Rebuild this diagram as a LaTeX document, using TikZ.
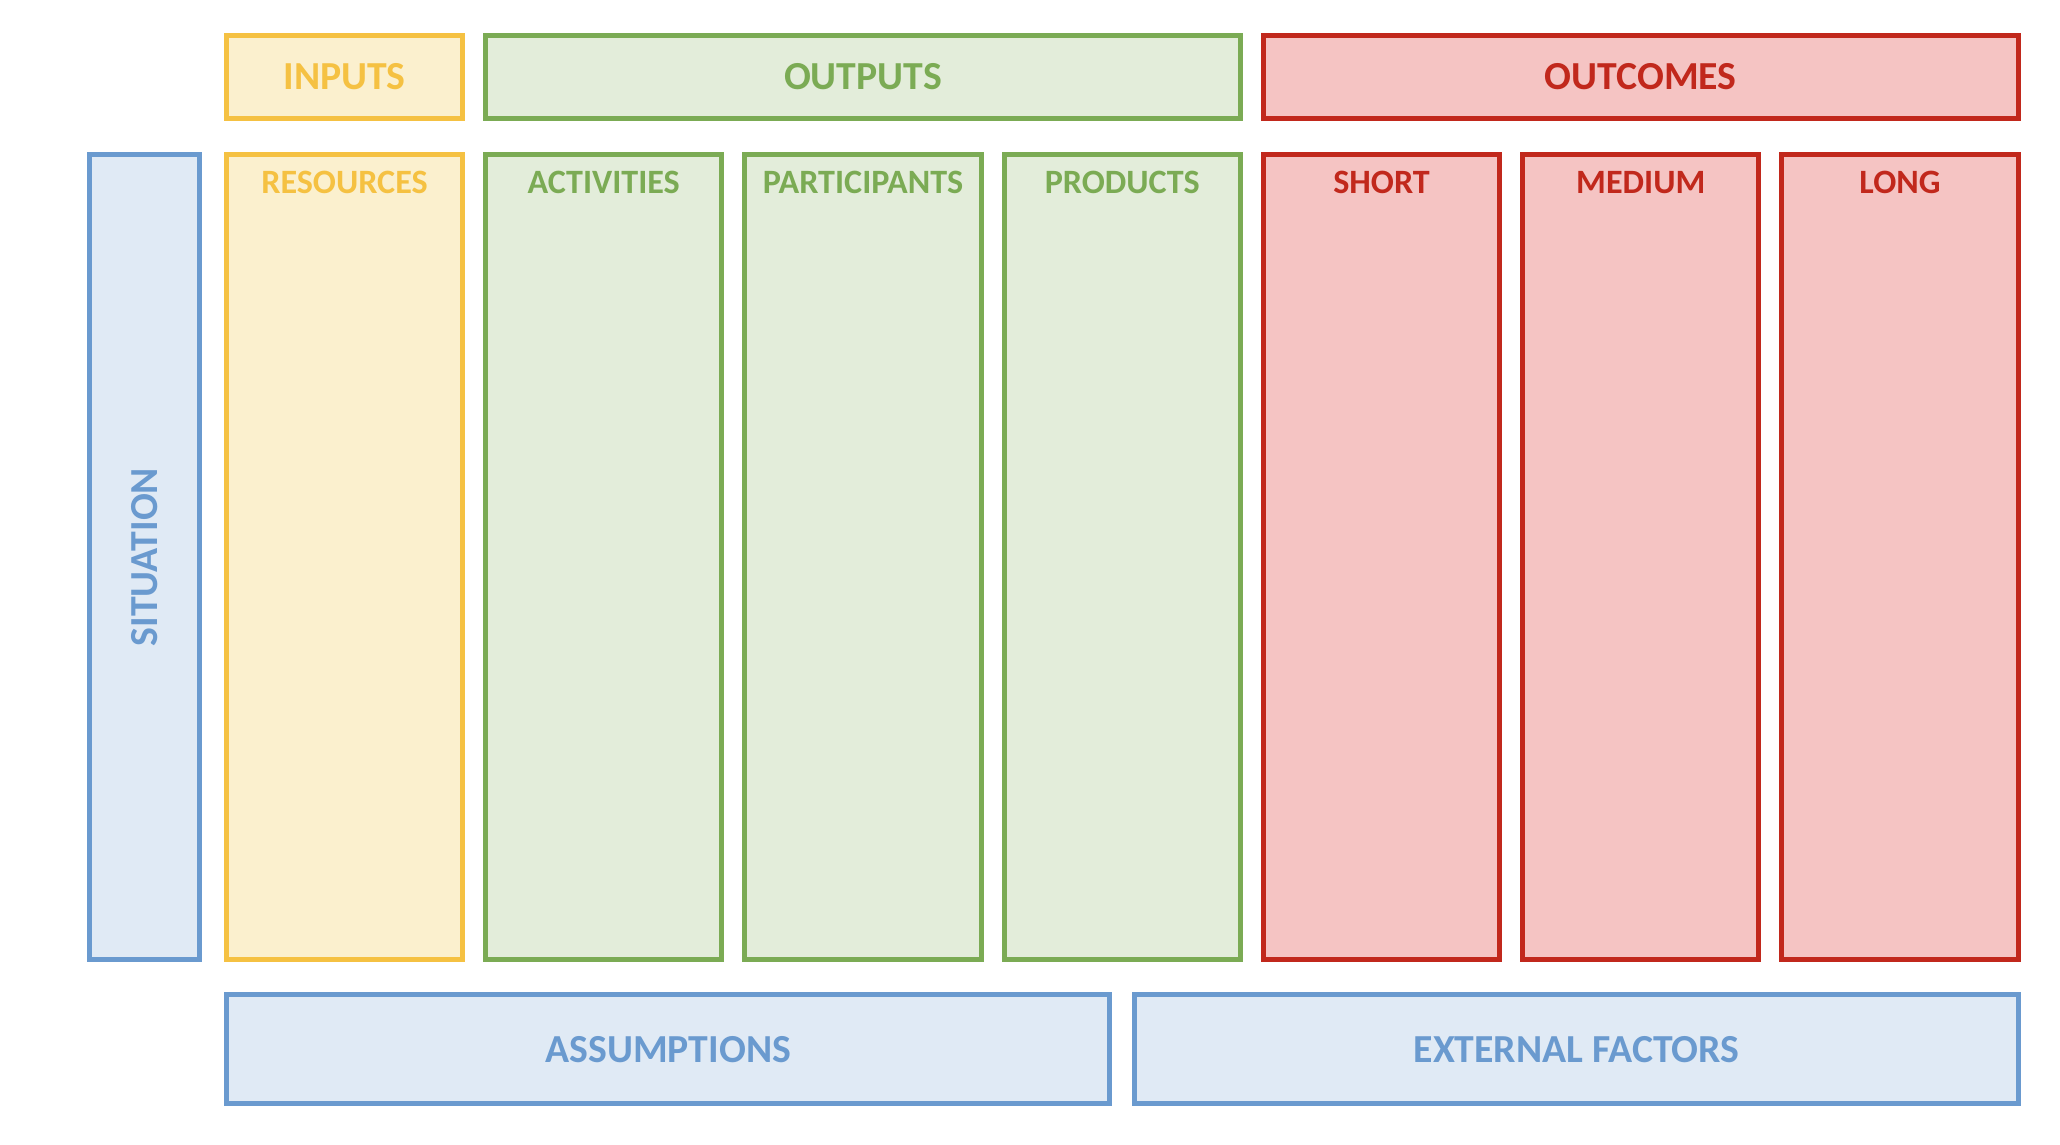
\documentclass[tikz,border=0pt]{standalone}
\usepackage{fontspec}
\setmainfont{Carlito}
\usetikzlibrary{positioning}

\definecolor{yelline}{HTML}{F5C142}
\definecolor{yelfill}{HTML}{FBF0CE}
\definecolor{grnline}{HTML}{7BAB54}
\definecolor{grnfill}{HTML}{E3EDDA}
\definecolor{redline}{HTML}{C1281C}
\definecolor{redfill}{HTML}{F5C4C3}
\definecolor{bluline}{HTML}{6A9ACF}
\definecolor{blufill}{HTML}{E0EAF5}

\begin{document}
\begin{tikzpicture}[
          x=0.01cm, y=-0.01cm,
          node distance=0.181cm,
          box/.style={draw, line width=0.05cm, inner sep=0pt,
            font=\fontsize{11.3}{13}\selectfont\bfseries},
          col/.style={box, minimum width=2.36cm, minimum height=8.05cm},
          head/.style={box, minimum height=0.83cm},
          foot/.style={box, minimum height=1.09cm},
          colname/.style={anchor=center, yshift=-0.306cm,
            font=\fontsize{9.7}{11}\selectfont\bfseries},
          yel/.style={draw=yelline, fill=yelfill, text=yelline},
          grn/.style={draw=grnline, fill=grnfill, text=grnline},
          red/.style={draw=redline, fill=redfill, text=redline},
          blu/.style={draw=bluline, fill=blufill, text=bluline}
        ]
          \useasboundingbox (0,0) rectangle (2060,1144);

          % columns
          \node[col, yel, label={[colname, yelline]north:RESOURCES}] (res) at (344.5,557) {};
          \node[col, grn, label={[colname, grnline]north:ACTIVITIES}, right=of res] (act) {};
          \node[col, grn, label={[colname, grnline]north:PARTICIPANTS}, right=of act] (part) {};
          \node[col, grn, label={[colname, grnline]north:PRODUCTS}, right=of part] (prod) {};
          \node[col, red, label={[colname, redline]north:SHORT}, right=of prod] (short) {};
          \node[col, red, label={[colname, redline]north:MEDIUM}, right=of short] (med) {};
          \node[col, red, label={[colname, redline]north:LONG}, right=of med] (long) {};

          \node[box, blu, minimum width=1.10cm, minimum height=8.05cm,
            left=0.215cm of res] (sit) {\rotatebox{90}{SITUATION}};

          % headers
          \node[head, yel, minimum width=2.36cm, above=0.31cm of res] (inputs) {INPUTS};
          \node[head, grn, minimum width=7.542cm, above=0.31cm of part] (outputs) {OUTPUTS};
          \node[head, red, minimum width=7.542cm, above=0.31cm of med] (outcomes) {OUTCOMES};

          % footers
          \node[foot, blu, minimum width=8.83cm,
            below=0.30cm of res.south west, anchor=north west] (assume) {ASSUMPTIONS};
          \node[foot, blu, minimum width=8.826cm,
            below=0.30cm of long.south east, anchor=north east] (extern) {EXTERNAL FACTORS};
        \end{tikzpicture}
\end{document}
